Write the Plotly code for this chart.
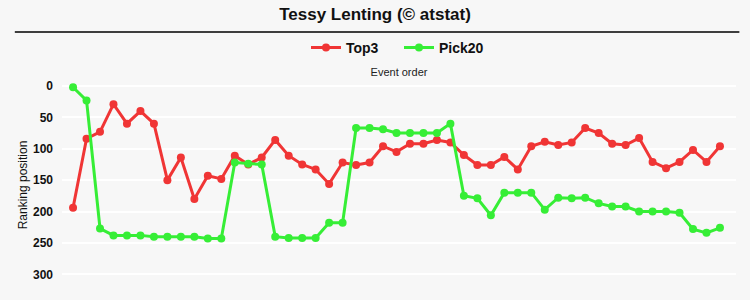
import plotly.graph_objects as go

events = list(range(1, 50))
top3 = [194, 84, 73, 29, 60, 40, 60, 150, 114, 180, 143, 148, 111, 125,
        114, 86, 111, 125, 133, 156, 122, 126, 122, 96, 105, 92, 92, 86, 90,
        110, 126, 126, 113, 133, 96, 89, 94, 90, 67, 75, 92, 94, 83, 121,
        131, 121, 102, 121, 96]
pick20 = [2, 23, 227, 238, 238, 238, 240, 240, 240, 240, 243, 243, 122, 124,
          125, 240, 242, 242, 242, 218, 218, 67, 67, 69, 75, 75, 75, 75, 60,
          175, 179, 206, 170, 170, 170, 197, 178, 179, 178, 187, 192, 192,
          200, 200, 200, 202, 228, 234, 226]
y_ticks = [0, 50, 100, 150, 200, 250, 300]

RED = "#f03535"
GREEN = "#36ee36"
FONT = "Liberation Sans Narrow, Liberation Sans, Arial, sans-serif"

fig = go.Figure()
fig.add_trace(go.Scatter(x=events, y=top3, name="Top3", mode="lines+markers",
                         line=dict(color=RED, width=3),
                         marker=dict(color=RED, size=8)))
fig.add_trace(go.Scatter(x=events, y=pick20, name="Pick20", mode="lines+markers",
                         line=dict(color=GREEN, width=3),
                         marker=dict(color=GREEN, size=8)))

fig.update_layout(
    width=750, height=300,
    margin=dict(l=62, r=14, t=80, b=10, autoexpand=False),
    paper_bgcolor="#f7f7f7", plot_bgcolor="#f7f7f7",
    title=dict(text="<b>Tessy Lenting (© atstat)</b>", x=0.5, xanchor="center",
               y=0.973, yanchor="top",
               font=dict(family=FONT, size=17, color="#111")),
    legend=dict(orientation="h", x=0.5, xanchor="center", y=1.229, yref="paper",
                yanchor="top", font=dict(family=FONT, size=14, color="#111",
                                         weight="bold"),
                entrywidth=48, entrywidthmode="pixels",
                bgcolor="rgba(0,0,0,0)"),
    showlegend=True,
    shapes=[dict(type="line", xref="paper", yref="paper",
                 x0=-0.07, x1=1.005, y0=1.2286, y1=1.2286,
                 line=dict(color="black", width=1.5))],
    xaxis=dict(range=[0.18, 50.19], side="top", showticklabels=False,
               showgrid=False, zeroline=False, ticks="", automargin=False,
               title=dict(text="Event order", standoff=0,
                          font=dict(family="Liberation Sans, Arial", size=11, color="#222"))),
    yaxis=dict(range=[325, -9.5], tickvals=y_ticks, showgrid=True,
               gridcolor="#ffffff", gridwidth=2, zeroline=False, automargin=False,
               tickfont=dict(family="Liberation Sans, Arial", size=12, color="#111",
                             weight="bold"),
               ticklabelstandoff=8,
               title=dict(text="Ranking position", standoff=2,
                          font=dict(family="Liberation Sans, Arial", size=12, color="#111"))),
)
fig.write_html("out.html")
